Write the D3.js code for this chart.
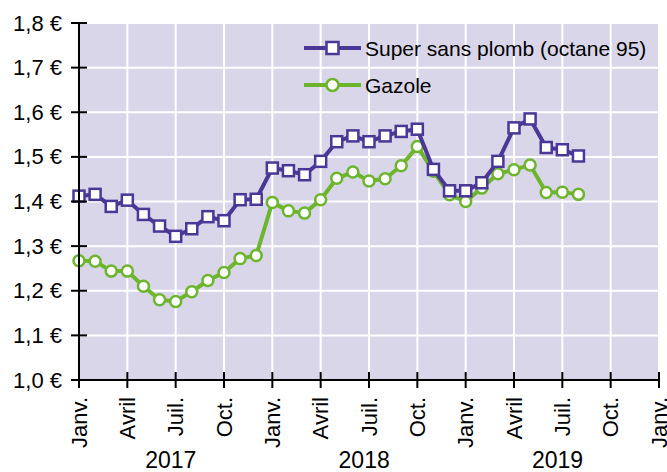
<!DOCTYPE html>
<html>
<script src="https://d3js.org/d3.v7.min.js"></script>

<head>
    <style>
        body {
            margin: 0;
            font-family: "Liberation Sans", Arial, Helvetica, sans-serif;
            background-color: white;
        }
    </style>
</head>

<body>
</body>
<script>
    const width = 667,
        height = 472;

    // monthly prices, Jan 2017 -> Aug 2019 (index = months since Jan 2017)
    const SUPER = [1.412, 1.416, 1.389, 1.403, 1.371, 1.345, 1.322, 1.339, 1.366, 1.357, 1.404, 1.405,
        1.475, 1.469, 1.460, 1.490, 1.534, 1.547, 1.534, 1.547, 1.557, 1.562, 1.472, 1.424,
        1.424, 1.442, 1.490, 1.565, 1.585, 1.521, 1.516, 1.502];
    const GAZOLE = [1.267, 1.266, 1.244, 1.244, 1.210, 1.180, 1.176, 1.198, 1.223, 1.241, 1.272, 1.279,
        1.398, 1.379, 1.374, 1.404, 1.452, 1.466, 1.446, 1.451, 1.480, 1.523, 1.468, 1.415,
        1.400, 1.430, 1.462, 1.471, 1.482, 1.420, 1.421, 1.416];
    const MONTH_TICKS = [0, 3, 6, 9, 12, 15, 18, 21, 24, 27, 30, 33, 36];
    const MONTH_LABELS = ["Janv.", "Avril", "Juil.", "Oct."];
    const YEARS = [2017, 2018, 2019];
    const Y_TICKS = [1.0, 1.1, 1.2, 1.3, 1.4, 1.5, 1.6, 1.7, 1.8];
    const SERIES = [
        { name: "Super sans plomb (octane 95)", values: SUPER, color: "#4a3796", marker: "square" },
        { name: "Gazole", values: GAZOLE, color: "#6cb52d", marker: "circle" }
    ];

    const svg = d3.select("body").append("svg").attr("width", width).attr("height", height);
    const x = d3.scaleLinear().domain([0, 36]).range([79, 659]);
    const y = d3.scaleLinear().domain([1.0, 1.8]).range([380, 23]);

    function draw() {
        // background
        svg.append("rect")
            .attr("x", x(0)).attr("y", y(1.8))
            .attr("width", x(36) - x(0)).attr("height", y(1.0) - y(1.8))
            .attr("fill", "#d9d6ea");

        // grid
        svg.selectAll(".hgrid").data(Y_TICKS.slice(1)).enter().append("line")
            .attr("x1", x(0)).attr("x2", x(36))
            .attr("y1", d => y(d)).attr("y2", d => y(d))
            .attr("stroke", "white").attr("stroke-width", 2);
        svg.selectAll(".vgrid").data(MONTH_TICKS.slice(1)).enter().append("line")
            .attr("x1", d => x(d)).attr("x2", d => x(d))
            .attr("y1", y(1.0)).attr("y2", y(1.8))
            .attr("stroke", "white").attr("stroke-width", 2);

        // legend
        SERIES.forEach((s, i) => {
            const ly = 48 + i * 37;
            svg.append("line")
                .attr("x1", 304).attr("x2", 361).attr("y1", ly).attr("y2", ly)
                .attr("stroke", s.color).attr("stroke-width", 4);
            marker(s, 332.5, ly, 6);
            svg.append("text")
                .attr("x", 365).attr("y", ly)
                .attr("dominant-baseline", "central")
                .attr("font-size", "21px")
                .text(s.name);
        });

        // series
        SERIES.slice().reverse().forEach(s => {
            const line = d3.line().x((d, i) => x(i)).y(d => y(d));
            svg.append("path")
                .attr("d", line(s.values))
                .attr("fill", "none")
                .attr("stroke", s.color)
                .attr("stroke-width", 4)
                .attr("stroke-linejoin", "round");
            s.values.forEach((v, i) => marker(s, x(i), y(v), 5.5));
        });

        // axes
        svg.append("line")
            .attr("x1", x(0)).attr("x2", x(0)).attr("y1", y(1.8)).attr("y2", y(1.0))
            .attr("stroke", "black").attr("stroke-width", 2);
        svg.append("line")
            .attr("x1", x(0)).attr("x2", x(36)).attr("y1", y(1.0)).attr("y2", y(1.0))
            .attr("stroke", "black").attr("stroke-width", 2);

        Y_TICKS.forEach(t => {
            svg.append("line")
                .attr("x1", x(0) - 8).attr("x2", x(0) + 8)
                .attr("y1", y(t)).attr("y2", y(t))
                .attr("stroke", "black").attr("stroke-width", 2);
            svg.append("text")
                .attr("x", 62).attr("y", y(t))
                .attr("text-anchor", "end")
                .attr("dominant-baseline", "central")
                .attr("font-size", "22px")
                .text(t.toFixed(1).replace(".", ",") + " €");
        });

        MONTH_TICKS.forEach((m, i) => {
            svg.append("line")
                .attr("x1", x(m)).attr("x2", x(m))
                .attr("y1", y(1.0) - 8).attr("y2", y(1.0) + 8)
                .attr("stroke", "black").attr("stroke-width", 2);
            svg.append("text")
                .attr("transform", `translate(${x(m)},397) rotate(-90)`)
                .attr("text-anchor", "end")
                .attr("dy", "0.35em")
                .attr("font-size", "22px")
                .text(MONTH_LABELS[i % 4]);
        });

        YEARS.forEach((yr, i) => {
            svg.append("text")
                .attr("x", x(i * 12 + 5.7)).attr("y", 468)
                .attr("text-anchor", "middle")
                .attr("font-size", "23px")
                .text(yr);
        });
    }

    function marker(s, cx, cy, r) {
        if (s.marker === "square") {
            svg.append("rect")
                .attr("x", cx - r).attr("y", cy - r)
                .attr("width", 2 * r).attr("height", 2 * r)
                .attr("fill", "white").attr("stroke", s.color).attr("stroke-width", 2.5);
        } else {
            svg.append("circle")
                .attr("cx", cx).attr("cy", cy).attr("r", r)
                .attr("fill", "white").attr("stroke", s.color).attr("stroke-width", 2.5);
        }
    }

    draw();
</script>

</html>
